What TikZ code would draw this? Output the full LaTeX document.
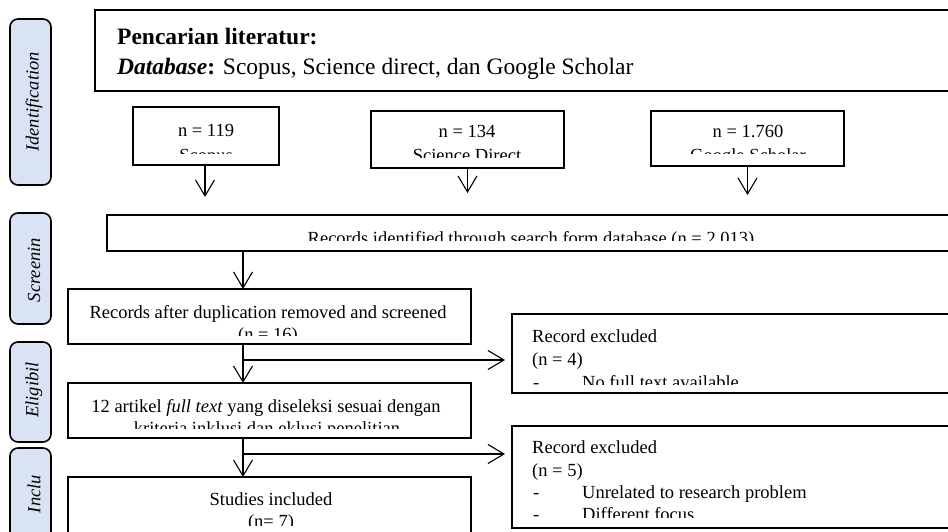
\documentclass[tikz,border=0pt]{standalone}
\usepackage{fontspec}
\setmainfont{Liberation Serif}
\usetikzlibrary{arrows.meta}
\definecolor{sidefill}{RGB}{218,227,243}
\begin{document}
\begin{tikzpicture}[x=1pt,y=-1pt,
  box/.style={draw, line width=1.6pt, inner sep=0pt, outer sep=0pt, anchor=north west},
  side/.style={draw, line width=1.6pt, rounded corners=8pt, fill=sidefill, inner sep=0pt, outer sep=0pt, anchor=north west, minimum width=41pt},
  txt/.style={font=\fontsize{18.5}{22}\selectfont, inner sep=0pt, anchor=base},
  ltxt/.style={txt, anchor=base west},
  bigtxt/.style={font=\fontsize{23.5}{28}\selectfont, inner sep=0pt, anchor=base west},
  sidetxt/.style={font=\fontsize{18.5}{22}\selectfont\itshape, rotate=90, inner sep=0pt},
  arr/.style={line width=1.1pt, -{Straight Barb[length=16pt,width=19pt,line width=1.1pt]}}]
\useasboundingbox (0,0) rectangle (948,532);
\fill[white] (0,0) rectangle (948,532);

% side labels
\node[side, minimum height=166pt] (sIdent) at (10,19) {};
\node[side, minimum height=111pt] (sScreen) at (10,213) {};
\node[side, minimum height=100pt] (sElig) at (10,342) {};
\node[side, minimum height=100pt] (sIncl) at (10,448) {};
\node[sidetxt] (tIdent) at (34,102) {Identification};
\node[sidetxt] (tScreen) at (34,270) {Screenin};
\node[sidetxt] (tElig) at (34,390) {Eligibil};
\node[sidetxt] (tIncl) at (34,494) {Inclu};

% boxes
\node[box, minimum width=880pt, minimum height=81pt] (top) at (95,10) {};
\node[box, minimum width=146pt, minimum height=58pt] (scopus) at (133,107) {};
\node[box, minimum width=193pt, minimum height=57pt] (sdirect) at (371,111) {};
\node[box, minimum width=193pt, minimum height=55pt] (google) at (651,111) {};
\node[box, minimum width=848pt, minimum height=36pt] (recid) at (107,215) {};
\node[box, minimum width=403pt, minimum height=55pt] (recafter) at (68,289) {};
\node[box, minimum width=460pt, minimum height=79pt] (excl1) at (512,314) {};
\node[box, minimum width=403pt, minimum height=55pt] (artikel) at (68,383) {};
\node[box, minimum width=460pt, minimum height=102pt] (excl2) at (512,426) {};
\node[box, minimum width=403pt, minimum height=80pt] (studies) at (68,477) {};

% texts
\node[bigtxt, font=\fontsize{23.5}{28}\selectfont\bfseries] (toptitle) at (117,45) {Pencarian literatur:};
\node[bigtxt] (topdb) at (117,75) {\textbf{\textit{Database}:} Scopus, Science direct, dan Google Scholar};

\begin{scope}
\clip (133,107) rectangle (279,154);
\node[txt] (scopusN) at (206,137) {n = 119};
\node[txt] (scopusL) at (206,161) {Scopus};
\end{scope}
\begin{scope}
\clip (371,111) rectangle (564,158);
\node[txt] (sdirectN) at (467,138) {n = 134};
\node[txt] (sdirectL) at (467,162) {Science Direct};
\end{scope}
\begin{scope}
\clip (651,111) rectangle (844,154);
\node[txt] (googleN) at (748,138) {n = 1.760};
\node[txt] (googleL) at (748,161) {Google Scholar};
\end{scope}
\begin{scope}
\clip (107,215) rectangle (955,240);
\node[txt] (recidT) at (531,244) {Records identified through search form database (n = 2.013)};
\end{scope}
\begin{scope}
\clip (68,289) rectangle (471,335);
\node[txt] (recafterT) at (268,318) {Records after duplication removed and screened};
\node[txt] (recafterN) at (268,340) {(n = 16)};
\end{scope}
\begin{scope}
\clip (512,314) rectangle (972,384);
\node[ltxt] (e1a) at (532,342) {Record excluded};
\node[ltxt] (e1b) at (532,365) {(n = 4)};
\node[ltxt] (e1c) at (533,388) {-};
\node[ltxt] (e1d) at (582,388) {No full text available};
\end{scope}
\begin{scope}
\clip (68,383) rectangle (471,428);
\node[txt] (artA) at (266,412) {12 artikel \textit{full text} yang diseleksi sesuai dengan};
\node[txt] (artB) at (267,434) {kriteria inklusi dan eklusi penelitian};
\end{scope}
\begin{scope}
\clip (512,426) rectangle (972,517);
\node[ltxt] (e2a) at (532,453) {Record excluded};
\node[ltxt] (e2b) at (532,476) {(n = 5)};
\node[ltxt] (e2c) at (533,498) {-};
\node[ltxt] (e2d) at (582,498) {Unrelated to research problem};
\node[ltxt] (e2e) at (533,520) {-};
\node[ltxt] (e2f) at (582,520) {Different focus};
\end{scope}
\begin{scope}
\clip (68,477) rectangle (471,525);
\node[txt] (studA) at (271,505) {Studies included};
\node[txt] (studB) at (271,527) {(n= 7)};
\end{scope}

% connectors
\coordinate (spine) at (243,0);
\coordinate (b1) at (243,360);
\coordinate (b2) at (243,454);
\draw[arr, shorten >=18pt] (scopus.south -| 205,0) -- (recid.north -| 205,0);
\draw[arr, shorten >=22pt] (sdirect.south) -- (sdirect.south |- recid.north);
\draw[arr, shorten >=20pt] (google.south) -- (google.south |- recid.north);
\draw[arr] (recid.south -| spine) -- (recafter.north -| spine);
\draw[arr] (recafter.south -| spine) -- (artikel.north -| spine);
\draw[arr, shorten >=7pt] (b1) -- (b1 -| excl1.west);
\draw[arr] (artikel.south -| spine) -- (studies.north -| spine);
\draw[arr, shorten >=7pt] (b2) -- (b2 -| excl2.west);
\end{tikzpicture}
\end{document}
